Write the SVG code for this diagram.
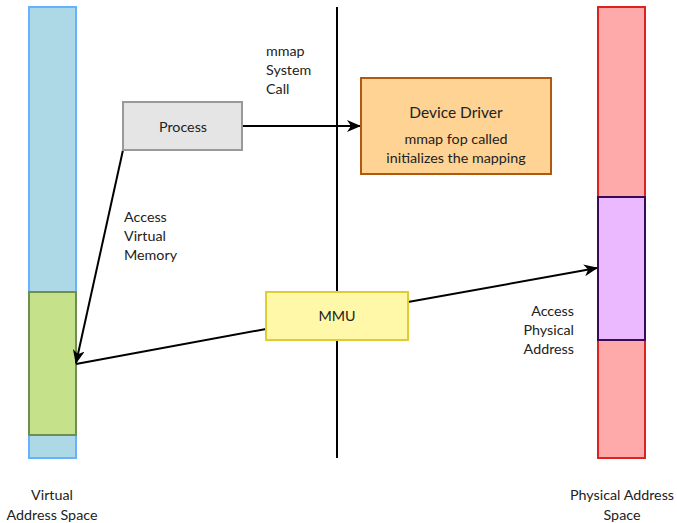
<svg xmlns="http://www.w3.org/2000/svg" width="677" height="523" viewBox="0 0 677 523">
<style>
text{font-family:Lato,"DejaVu Sans",sans-serif;font-size:14.3px;fill:#222}
.c{text-anchor:middle}
.r{text-anchor:end}
.ln{stroke:#000;stroke-width:2;fill:none}
</style>
<defs>
<marker id="ah" viewBox="0 0 14 12" refX="13" refY="6" markerWidth="14" markerHeight="12" markerUnits="userSpaceOnUse" orient="auto">
<path d="M0,0 L14,6 L0,12 L4,6 Z" fill="#000"/>
</marker>
</defs>
<g id="virtual">
<rect x="29" y="7" width="47" height="451" fill="#add8e6" stroke="#66b2ff" stroke-width="2"/>
</g>
<g id="virtual-region">
<rect x="29" y="292" width="47" height="143" fill="#c5e18a" stroke="#6f8f50" stroke-width="2"/>
</g>
<g id="physical">
<rect x="598" y="7" width="47" height="451" fill="#ffaaaa" stroke="#dd2222" stroke-width="2"/>
</g>
<g id="physical-region">
<rect x="598" y="197" width="47" height="143" fill="#ebb9ff" stroke="#3a0a55" stroke-width="2"/>
</g>
<g id="divider">
<line x1="337" y1="7" x2="337" y2="458" stroke="#000" stroke-width="2"/>
</g>
<g id="connectors">
<line class="ln" x1="242" y1="126" x2="360" y2="126" marker-end="url(#ah)"/>
<line class="ln" x1="123" y1="150" x2="76" y2="363" marker-end="url(#ah)"/>
<line class="ln" x1="266" y1="329" x2="76" y2="364"/>
<line class="ln" x1="408" y1="302" x2="597" y2="268" marker-end="url(#ah)"/>
</g>
<g id="process">
<rect x="123" y="102" width="119" height="48" fill="#e5e5e5" stroke="#999" stroke-width="2"/>
<text class="c" x="183" y="132">Process</text>
</g>
<g id="driver">
<rect x="361" y="78" width="190" height="96" fill="#ffd393" stroke="#b05a10" stroke-width="2"/>
<text class="c" x="456" y="118" style="font-size:15.5px">Device Driver</text>
<text class="c" x="456" y="144">mmap fop called</text>
<text class="c" x="456" y="163">initializes the mapping</text>
</g>
<g id="mmu">
<rect x="266" y="292" width="142" height="48" fill="#fff8a8" stroke="#ddcc33" stroke-width="2"/>
<text class="c" x="337" y="321">MMU</text>
</g>
<g id="labels">
<text x="266" y="56">mmap</text>
<text x="266" y="75">System</text>
<text x="266" y="94">Call</text>
<text x="124" y="222">Access</text>
<text x="124" y="241">Virtual</text>
<text x="124" y="260">Memory</text>
<text class="r" x="574" y="316">Access</text>
<text class="r" x="574" y="335">Physical</text>
<text class="r" x="574" y="354">Address</text>
<text class="c" x="52" y="500">Virtual</text>
<text class="c" x="52" y="520">Address Space</text>
<text class="c" x="622" y="500">Physical Address</text>
<text class="c" x="622" y="520">Space</text>
</g>
</svg>
